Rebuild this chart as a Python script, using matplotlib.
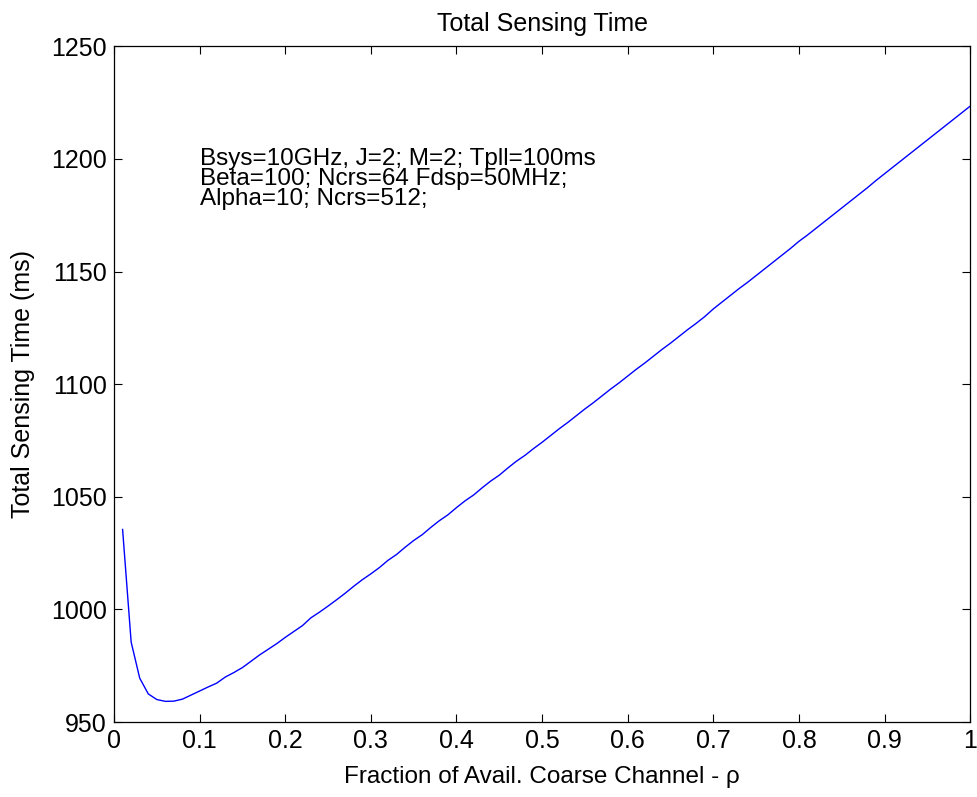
import matplotlib
matplotlib.use("Agg")
import matplotlib.pyplot as plt

rho = [round(0.01 * i, 2) for i in range(1, 101)]
total_time = [
    1035.5, 985.5, 969.5, 962.5, 960.0, 959.2, 959.3, 960.2, 962.0, 963.8,
    965.6, 967.3, 970.0, 972.0, 974.2, 977.0, 979.8, 982.3, 984.8, 987.6,
    990.2, 992.8, 996.3, 998.8, 1001.5, 1004.3, 1007.2, 1010.3, 1013.2, 1015.8,
    1018.6, 1021.8, 1024.4, 1027.6, 1030.6, 1033.2, 1036.4, 1039.4, 1042.0, 1045.2,
    1048.2, 1050.8, 1054.0, 1057.0, 1059.6, 1062.8, 1065.8, 1068.4, 1071.4, 1074.2,
    1077.2, 1080.2, 1083.0, 1086.0, 1089.0, 1091.8, 1094.8, 1097.8, 1100.6, 1103.6,
    1106.6, 1109.4, 1112.4, 1115.4, 1118.2, 1121.2, 1124.2, 1127.0, 1130.0, 1133.4,
    1136.4, 1139.4, 1142.4, 1145.2, 1148.2, 1151.2, 1154.2, 1157.2, 1160.2, 1163.4,
    1166.2, 1169.2, 1172.2, 1175.2, 1178.2, 1181.2, 1184.2, 1187.2, 1190.4, 1193.4,
    1196.4, 1199.4, 1202.4, 1205.4, 1208.4, 1211.4, 1214.4, 1217.4, 1220.4, 1223.4,
]

xticks = [0, 0.1, 0.2, 0.3, 0.4, 0.5, 0.6, 0.7, 0.8, 0.9, 1]
xticklabels = ["0", "0.1", "0.2", "0.3", "0.4", "0.5", "0.6", "0.7", "0.8", "0.9", "1"]
yticks = [950, 1000, 1050, 1100, 1150, 1200, 1250]

annotation_lines = [
    "Bsys=10GHz, J=2; M=2; Tpll=100ms",
    "Beta=100; Ncrs=64 Fdsp=50MHz;",
    "Alpha=10; Ncrs=512;",
]
annotation_y = [1197.4, 1188.4, 1179.4]

plt.rcParams["font.family"] = ["Liberation Sans", "DejaVu Sans"]

fig = plt.figure(figsize=(9.78, 7.97), dpi=100)
ax = fig.add_axes([0.1166, 0.094, 0.992 - 0.1166, 0.942 - 0.094])

ax.plot(rho, total_time, color=(0, 0, 1), linewidth=1.0)

ax.set_xlim(0, 1)
ax.set_ylim(950, 1250)
ax.set_xticks(xticks)
ax.set_xticklabels(xticklabels)
ax.set_yticks(yticks)

ax.tick_params(direction="in", length=6, width=0.8, top=True, right=True,
               labelsize=18, pad=5, colors="black")
for sp in ax.spines.values():
    sp.set_linewidth(0.9)
    sp.set_color("black")

for line, y in zip(annotation_lines, annotation_y):
    ax.text(0.1, y, line, fontsize=17.5, va="baseline", ha="left")

ax.set_title("Total Sensing Time", fontsize=18, pad=11)
ax.set_xlabel("Fraction of Avail. Coarse Channel - \u03c1", fontsize=17.5, labelpad=9)
ax.set_ylabel("Total Sensing Time (ms)", fontsize=18, labelpad=12)

fig.savefig("out.png", dpi=100)
